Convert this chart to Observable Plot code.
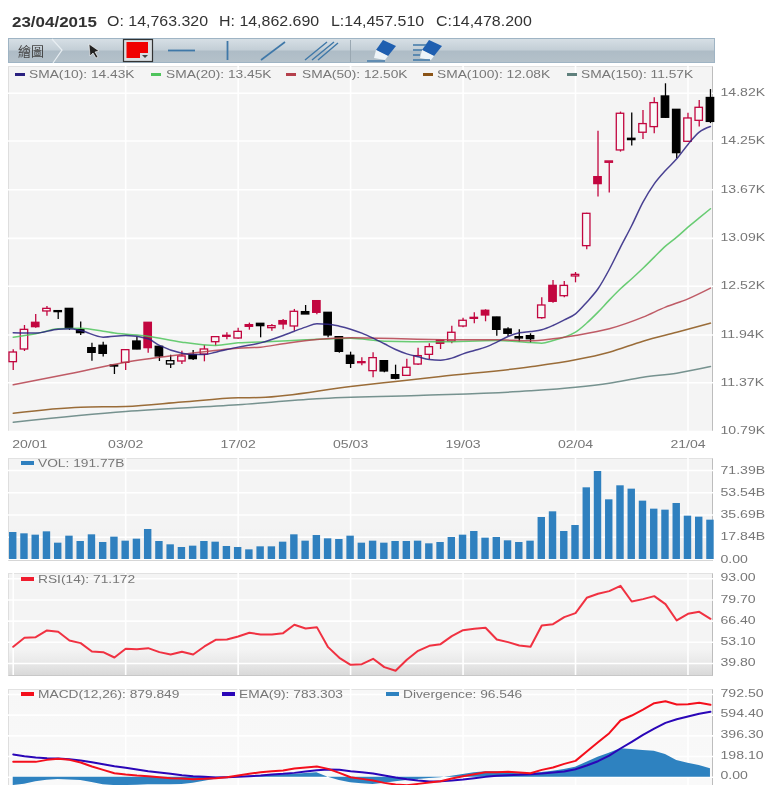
<!DOCTYPE html>
<html>
<head>
<meta charset="utf-8">
<script src="https://cdn.jsdelivr.net/npm/d3@7"></script>
<script src="https://cdn.jsdelivr.net/npm/@observablehq/plot@0.6"></script>
<style>
html,body{margin:0;padding:0;background:#fff;overflow:hidden;}
#page{position:relative;width:768px;height:785px;overflow:hidden;font-family:"Liberation Sans",Arial,sans-serif;filter:blur(.4px);}
.abs{position:absolute;}
.hdr{position:absolute;top:13px;font-size:14.5px;line-height:17px;color:#333;transform-origin:left center;white-space:nowrap;}
.lg{position:absolute;font-size:11px;line-height:12px;color:#777;transform:scaleX(1.25);transform-origin:left center;white-space:nowrap;}
.sw{position:absolute;height:4px;}
.panel{position:absolute;left:8px;width:705px;box-sizing:border-box;border-top:1px solid #e2e2e2;border-left:1px solid #dedede;border-right:1px solid #bdbdbd;border-bottom:1px solid #c8c8c8;}
#toolbar{position:absolute;left:8px;top:38px;width:707px;height:25px;box-sizing:border-box;border:1px solid #9fb4c4;background:linear-gradient(#d6dfe5 0%,#c3ced6 48%,#aebcc6 52%,#b4c1ca 100%);}
#toolbar svg{position:absolute;left:-9px;top:-39px;}
#tbtext{position:absolute;left:9px;top:3px;font:13px/17px "Noto Sans CJK TC",sans-serif;color:#444;}
svg.chart{position:absolute;left:0;}
</style>
</head>
<body>
<div id="page"></div>
<script>
// ---- Data ----
const headerDate = "23/04/2015";
const headerValues = [["O: 14,763.320",107],["H: 14,862.690",219],["L:14,457.510",331],["C:14,478.200",436]];
const xTickIndex = [0,10,20,30,40,50,60];
const xTickLabels = ["20/01","03/02","17/02","05/03","19/03","02/04","21/04"];

const open = [11.616,11.767,12.085,12.220,12.224,12.251,11.997,11.783,11.811,11.576,11.608,11.862,12.085,11.799,11.588,11.624,11.699,11.707,11.854,11.918,11.898,12.037,12.073,12.021,12.105,12.041,12.212,12.343,12.204,11.914,11.692,11.604,11.509,11.628,11.461,11.453,11.588,11.703,11.874,11.862,12.041,12.132,12.228,12.148,12.005,11.914,11.926,12.140,12.525,12.402,12.637,12.998,13.820,13.991,14.138,14.277,14.349,14.416,14.781,14.622,14.241,14.491,14.763];
const close = [11.731,12.001,12.033,12.251,12.212,12.025,11.962,11.727,11.715,11.564,11.759,11.767,11.783,11.684,11.628,11.684,11.652,11.767,11.914,11.930,11.977,12.057,12.045,12.045,12.065,12.216,12.184,12.204,11.934,11.739,11.596,11.616,11.664,11.505,11.418,11.549,11.688,11.795,11.835,11.966,12.109,12.144,12.172,12.001,11.954,11.898,11.890,12.291,12.335,12.525,12.656,13.383,13.737,14.007,14.575,14.261,14.452,14.702,14.527,14.106,14.519,14.646,14.478];
const high = [11.763,12.053,12.184,12.279,12.224,12.251,12.093,11.842,11.854,11.576,11.767,11.914,12.085,11.803,11.699,11.747,11.755,11.815,11.922,11.966,12.021,12.081,12.073,12.065,12.124,12.244,12.291,12.351,12.204,11.914,11.735,11.668,11.727,11.636,11.580,11.652,11.783,11.835,11.874,12.045,12.140,12.204,12.240,12.152,12.025,12.001,11.954,12.382,12.589,12.577,12.684,13.391,14.368,14.007,14.595,14.583,14.615,14.765,14.932,14.622,14.582,14.733,14.863];
const low = [11.517,11.743,12.021,12.164,12.124,11.993,11.934,11.628,11.676,11.469,11.517,11.763,11.723,11.624,11.541,11.588,11.636,11.620,11.807,11.882,11.890,11.997,11.906,11.985,12.001,11.985,12.184,12.180,11.906,11.723,11.541,11.572,11.429,11.489,11.406,11.453,11.576,11.648,11.767,11.835,12.025,12.073,12.097,11.926,11.922,11.850,11.842,12.128,12.319,12.382,12.561,12.954,13.582,13.630,14.118,14.190,14.269,14.336,14.519,14.039,14.233,14.416,14.458];
// r = crimson, b = black; h = hollow, f = filled
const kind = ["rh","rh","rf","rh","bf","bf","bf","bf","bf","bf","rh","bf","rf","bf","bh","rh","bf","rh","rh","rf","rh","rf","bf","rh","rf","rh","bf","rf","bf","bf","bf","rh","rh","bf","bf","rh","rh","rh","rf","rh","rh","rh","rf","bf","bf","bf","bf","rh","rf","rh","rh","rh","rf","rh","rh","bf","rh","rh","bf","bf","rh","rh","bf"];

const sma10Idx = [0,2,4,5,6,8,10,12,13,15,16,17,18,20,22,24,25,26,27,28,29,30,31,32,33,34,35,36,37,38,39,40,41,42,43,44,45,46,47,48,49,50,51,52,53,54,55,56,57,58,59,60,61,62];
const sma10 = [11.966,11.962,12.009,12.013,11.993,11.914,11.934,11.894,11.815,11.723,11.707,11.707,11.735,11.795,11.846,11.934,11.985,12.033,12.073,12.069,12.045,12.009,11.962,11.902,11.835,11.767,11.715,11.680,11.648,11.640,11.664,11.715,11.755,11.795,11.854,11.922,11.966,11.981,12.001,12.053,12.120,12.192,12.331,12.490,12.720,12.986,13.244,13.522,13.740,13.899,14.038,14.210,14.356,14.423];
const sma20Idx = [0,2,4,6,8,9,12,15,18,20,23,26,30,33,38,43,46,47,48,49,50,51,52,53,54,55,56,57,58,59,60,61,62];
const sma20 = [11.914,11.954,12.013,12.021,11.985,11.962,11.926,11.854,11.815,11.846,11.862,11.882,11.902,11.866,11.858,11.874,11.850,11.842,11.874,11.914,11.973,12.082,12.212,12.355,12.490,12.610,12.735,12.867,12.998,13.105,13.224,13.335,13.443];
const sma50Idx = [0,5,10,15,20,22,24,27,30,39,43,46,48,50,53,56,58,60,62];
const sma50 = [11.346,11.477,11.616,11.707,11.783,11.795,11.835,11.886,11.906,11.882,11.882,11.870,11.894,11.934,12.013,12.152,12.271,12.370,12.498];
const sma100Idx = [0,6,10,15,20,22,30,34,38,46,50,53,56,59,62];
const sma100 = [11.008,11.080,11.088,11.140,11.191,11.195,11.326,11.386,11.445,11.560,11.644,11.735,11.866,11.973,12.081];
const sma150Idx = [0,10,20,27,36,46,50,53,56,59,62];
const sma150 = [10.901,11.028,11.108,11.179,11.219,11.275,11.318,11.366,11.437,11.485,11.564];
const priceTicks = [14.82,14.25,13.67,13.09,12.52,11.94,11.37,10.79];

const volume = [21.66,20.59,19.52,22.19,13.10,18.72,14.44,19.79,13.64,17.92,14.71,16.31,24.07,14.44,11.77,9.63,10.70,14.44,13.90,10.43,9.63,7.75,10.16,10.16,13.90,19.79,14.71,19.25,16.58,16.04,18.72,13.10,14.71,13.10,14.44,14.44,14.71,12.57,13.64,17.65,19.52,22.46,17.11,17.65,14.97,13.64,14.71,33.69,38.24,22.46,27.27,57.49,70.59,47.86,59.10,56.42,46.80,40.38,39.58,44.92,34.76,33.96,31.55];
const volTicks = [71.39,53.54,35.69,17.84,0];

const rsi = [50.28,55.93,56.35,60.54,59.70,54.26,52.58,47.35,46.93,43.58,49.03,48.82,49.45,46.93,45.47,47.14,45.47,50.49,54.68,54.89,56.78,59.08,58.03,58.03,58.87,64.10,61.80,62.64,50.07,43.37,38.98,39.40,42.74,37.51,35.20,42.12,47.77,50.91,51.96,56.98,60.75,61.59,62.22,54.89,53.21,51.12,50.28,63.68,64.52,68.92,71.43,81.06,83.58,85.25,88.60,78.76,80.23,82.11,77.09,66.82,71.01,72.27,67.87];
const rsiTicks = [93,79.7,66.4,53.1,39.8];

const macd = [147.0,147.0,147.0,166.1,175.7,166.1,140.6,102.2,70.3,38.3,25.6,16.0,9.6,0,-9.6,-12.8,-19.2,-16.0,-9.6,0,16.0,32.0,47.9,57.5,63.9,83.1,92.7,102.2,79.9,41.5,0,-16.0,-32.0,-54.3,-70.3,-76.7,-63.9,-51.1,-38.3,-12.8,9.6,28.8,47.9,47.9,51.1,44.7,38.3,70.3,92.7,127.8,156.6,246.0,335.5,421.7,543.2,591.1,648.6,709.3,728.5,696.5,699.7,712.5,693.3];
const ema = [217.3,201.3,188.5,182.1,178.9,172.5,159.8,143.8,124.6,105.4,89.5,73.5,57.5,44.7,32.0,19.2,9.6,3.2,-3.2,0,3.2,9.6,16.0,25.6,32.0,41.5,54.3,67.1,73.5,70.3,57.5,47.9,35.1,16.0,-3.2,-19.2,-32.0,-41.5,-38.3,-32.0,-22.4,-9.6,3.2,12.8,19.2,22.4,28.8,35.1,44.7,54.3,76.7,111.8,153.4,207.7,274.8,338.7,405.8,466.5,520.8,555.9,581.5,607.1,626.2];
const divergence = [-79.9,-67.1,-44.7,-28.8,-22.4,-25.6,-32.0,-51.1,-73.5,-79.9,-79.9,-76.7,-73.5,-73.5,-73.5,-70.3,-57.5,-38.3,-19.2,0,3.2,9.6,16.0,19.2,22.4,28.8,35.1,41.5,0,-32.0,-54.3,-63.9,-70.3,-57.5,-44.7,-32.0,-22.4,-12.8,-6.4,9.6,25.6,41.5,51.1,51.1,44.7,38.3,35.1,44.7,57.5,73.5,95.9,143.8,191.7,230.0,271.6,265.2,255.6,249.2,217.3,159.8,134.2,111.8,79.9];
const macdTicks = [792.5,594.4,396.3,198.1,0];

// ---- Styles ----
const COL = {sma10:"#2a2180",sma20:"#4fc45c",sma50:"#b5404c",sma100:"#8a5316",sma150:"#5f807c",crimson:"#c2063f",vol:"#2f80bf",rsi:"#f01c2e",macd:"#f40f1c",ema:"#2a06b8",div:"#2e82c0",text:"#777"};
const X_DOMAIN = [-0.42,62.27], X_RANGE = [8,713];
const page = document.getElementById("page");
const idx = open.map((_,i)=>i);

function el(cls,css,txt){const d=document.createElement("div");d.className=cls;d.style.cssText=css;if(txt!=null)d.textContent=txt;page.appendChild(d);return d;}

// header
el("hdr","left:12px;font-weight:bold;font-size:15px;transform:scaleX(1.13);",headerDate);
headerValues.forEach(([t,x])=>el("hdr",`left:${x}px;transform:scaleX(1.1);`,t));

// toolbar
const tb = el("","",null); tb.id="toolbar";
tb.innerHTML = `<div id="tbtext">繪圖</div>
<svg width="768" height="100" fill="none">
<path d="M52 39 L62 50 L53 63" stroke="#e8eef2" stroke-width="1.2"/>
<path d="M89 44 L90 56 L93 53 L96 58 L98 57 L95 52 L99 51 Z" fill="#222" stroke="#fff" stroke-width=".6"/>
<rect x="123.5" y="39.5" width="29" height="22" fill="#d7dde1" stroke="#333" stroke-width="1.2"/>
<path d="M126.5 42 H148 V53 H140 V58 H126.5 Z" fill="#f00000"/>
<path d="M142 55 h6 l-3 3 z" fill="#444"/>
<path d="M168 50.5 H195" stroke="#3f78a8" stroke-width="1.8"/>
<path d="M227.5 41 V60" stroke="#3f78a8" stroke-width="1.8"/>
<path d="M261 60 L285 42" stroke="#3f78a8" stroke-width="1.6"/>
<path d="M305 60 L327 42 M312 60 L334 42 M318 60 L338 43" stroke="#3f78a8" stroke-width="1.4"/>
<path d="M350.5 40 V62" stroke="#9aa8b2" stroke-width="1"/>
<path d="M383 40 L396 46 L388 56 L376 50 Z" fill="#1f5fb0"/>
<path d="M376 50 L388 56 L385 60 L374 58 Z" fill="#eef4f8"/>
<path d="M367 61 H385" stroke="#3f78a8" stroke-width="1.4"/>
<path d="M429 40 L442 46 L434 56 L422 50 Z" fill="#1f5fb0"/>
<path d="M422 50 L434 56 L431 60 L420 58 Z" fill="#eef4f8"/>
<path d="M413 45 H426 M413 50 H422 M413 55 H420 M413 60 H430" stroke="#3f78a8" stroke-width="1.3"/>
</svg>`;

// panels: background
function panel(top,h,bg){el("panel",`top:${top}px;height:${h+1}px;background:${bg};`);}
panel(66,365,"#f4f4f4");
panel(458,102,"linear-gradient(#f4f4f4 0%,#f4f4f4 68%,#ececec 100%)");
panel(573,102,"linear-gradient(#f4f4f4 0%,#f4f4f4 74%,#e8e8e8 88%,#d9d9d9 100%)");
panel(689,96,"linear-gradient(#f7f7f7 0%,#f9f9f9 100%)");

// generic chart maker
function chart(top,plotH,svgH,yDomain,ticks,fmt,labelDy,gridX,marks){
  const p = Plot.plot({
    width:768,height:svgH,marginLeft:0,marginRight:0,marginTop:0,marginBottom:svgH-plotH,
    style:{background:"transparent",overflow:"visible",fontFamily:"'Liberation Sans',Arial,sans-serif"},
    x:{domain:X_DOMAIN,range:X_RANGE,axis:null},
    y:{domain:yDomain,range:[plotH,0],axis:null},
    marks:[
      Plot.ruleX(gridX,{x:d=>d,stroke:"#fff",strokeWidth:1.6}),
      Plot.ruleY(ticks,{y:d=>d,x1:X_DOMAIN[0],x2:X_DOMAIN[1],stroke:"#fff",strokeWidth:1.6}),
      ...marks,
      Plot.text(ticks,{x:()=>X_DOMAIN[1],y:d=>d,text:fmt,textAnchor:"start",dx:7,dy:labelDy,fontSize:11,fill:COL.text})
    ]
  });
  p.classList.add("chart");
  p.style.top = top+"px";
  page.appendChild(p);
  return p;
}

// --- price panel ---
const candles = idx.map(i=>({i,o:open[i],c:close[i],h:high[i],l:low[i],k:kind[i]}));
const colorOf = d=>d.k[0]==="r"?COL.crimson:"#000";
const smaLine = (ix,vals,color)=>Plot.line(ix.map((i,j)=>({i,v:vals[j]})),{x:"i",y:"v",stroke:color,strokeWidth:1.5,strokeOpacity:.85,curve:"monotone-x"});
const firstTick = xTickIndex.map((i,j)=>({i,t:xTickLabels[j]}));
chart(66,365,385,[10.79,15.138],priceTicks,d=>d.toFixed(2)+"K",-0.7,xTickIndex.slice(1),[
  Plot.ruleX(candles,{x:"i",y1:"l",y2:"h",stroke:colorOf,strokeWidth:1.3}),
  Plot.rect(candles,{x1:d=>d.i-.33,x2:d=>d.i+.33,y1:"o",y2:"c",fill:d=>d.k[1]==="f"?colorOf(d):"#f8f8f8",stroke:colorOf,strokeWidth:1.3}),
  smaLine(sma150Idx,sma150,COL.sma150),
  smaLine(sma100Idx,sma100,COL.sma100),
  smaLine(sma20Idx,sma20,COL.sma20),
  smaLine(sma50Idx,sma50,COL.sma50),
  smaLine(sma10Idx,sma10,COL.sma10),
  Plot.text(firstTick.slice(0,1),{x:"i",y:()=>10.79,text:"t",textAnchor:"start",dx:-1,dy:13,fontSize:11,fill:COL.text}),
  Plot.text(firstTick.slice(1),{x:"i",y:()=>10.79,text:"t",textAnchor:"middle",dy:13,fontSize:11,fill:COL.text})
]);

// --- volume panel ---
chart(458,102,102,[-0.8,81],volTicks,d=>d===0?"0.00":d.toFixed(2)+"B",-0.3,xTickIndex.slice(1),[
  Plot.rect(idx,{x1:i=>i-.33,x2:i=>i+.33,y1:()=>0,y2:i=>volume[i],fill:COL.vol})
]);

// --- RSI panel ---
chart(573,102,102,[32.26,96.33],rsiTicks,d=>d.toFixed(2),-1,xTickIndex,[
  Plot.line(idx,{x:i=>i,y:i=>rsi[i],stroke:COL.rsi,strokeWidth:2,strokeOpacity:.9})
]);

// --- MACD panel ---
chart(689,96,96,[-79.5,840.4],macdTicks,d=>d.toFixed(2),-1.5,xTickIndex.slice(1),[
  Plot.areaY(idx,{x:i=>i,y1:()=>0,y2:i=>divergence[i],fill:COL.div}),
  Plot.line(idx,{x:i=>i,y:i=>ema[i],stroke:COL.ema,strokeWidth:2}),
  Plot.line(idx,{x:i=>i,y:i=>macd[i],stroke:COL.macd,strokeWidth:2})
]);

// stretch axis glyphs horizontally, as in the picture
page.querySelectorAll("svg.chart text").forEach(t=>{
  const w=t.getComputedTextLength();
  t.setAttribute("textLength",(w*1.28).toFixed(1));
  t.setAttribute("lengthAdjust","spacingAndGlyphs");
});

// legends
function legend(y,items,swW,swH){
  items.forEach(([txt,color,sx,tx])=>{
    el("sw",`left:${sx}px;top:${y-swH/2}px;width:${swW}px;height:${swH}px;background:${color};`);
    el("lg",`left:${tx}px;top:${y-6}px;`,txt);
  });
}
legend(74,[["SMA(10): 14.43K",COL.sma10,15,29],["SMA(20): 13.45K",COL.sma20,151,166],["SMA(50): 12.50K",COL.sma50,286,302],["SMA(100): 12.08K",COL.sma100,423,437],["SMA(150): 11.57K",COL.sma150,567,581]],10,3);
legend(463,[["VOL: 191.77B",COL.vol,21,38]],13,4);
legend(579,[["RSI(14): 71.172",COL.rsi,21,38]],13,4);
legend(694,[["MACD(12,26): 879.849",COL.macd,21,38],["EMA(9): 783.303",COL.ema,222,239],["Divergence: 96.546",COL.div,386,403]],13,4);
</script>
</body>
</html>
